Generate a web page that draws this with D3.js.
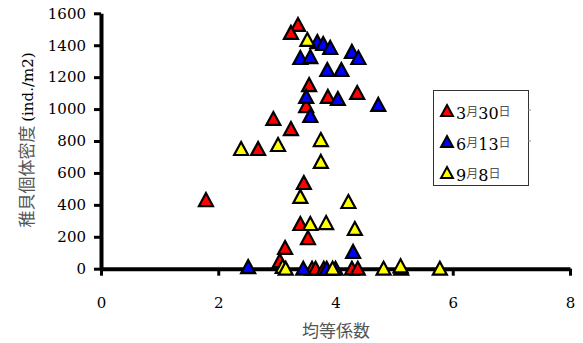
<!DOCTYPE html>
<html>
<head>
<meta charset="utf-8">
<script src="https://cdn.jsdelivr.net/npm/d3@7"></script>
<style>
  body { margin: 0; background: #fff; }
  svg { display: block; }
</style>
</head>
<body>
<svg id="chart"></svg>
<script>
// series names (legend)
const seriesNames = [["3", "月", "30", "日"], ["6", "月", "13", "日"], ["9", "月", "8", "日"]];
const seriesColors = ["#ff0000", "#0000ff", "#ffff00"];

// [均等係数, 稚貝個体密度]
const march30 = [
  [1.79, 430], [3.36, 1527], [3.24, 1477], [3.55, 1150], [3.50, 1019],
  [3.87, 1076], [4.37, 1101], [2.94, 938], [3.24, 875], [2.68, 750],
  [3.46, 537], [3.40, 280], [3.53, 192], [3.14, 130], [3.05, 48],
  [3.60, 0], [3.66, 0], [3.80, 0], [4.28, 0], [4.38, 0]
];
const june13 = [
  [2.51, 10], [3.69, 1420], [3.79, 1408], [3.91, 1383], [4.28, 1358],
  [4.39, 1320], [3.40, 1320], [3.57, 1326], [3.86, 1245], [4.10, 1245],
  [3.50, 1076], [3.57, 957], [4.04, 1063], [4.73, 1026], [4.30, 105],
  [3.45, 0], [3.85, 0], [4.00, 0], [5.12, 0]
];
const sept8 = [
  [3.52, 1433], [3.02, 775], [2.39, 750], [3.75, 806], [3.75, 669],
  [3.40, 450], [4.22, 418], [3.57, 280], [3.84, 286], [4.33, 249],
  [3.10, 12], [3.15, 0], [3.95, 0], [4.82, 0], [5.11, 15], [5.78, 0]
];

const xTicks = [0, 2, 4, 6, 8];
const yTicks = [0, 200, 400, 600, 800, 1000, 1200, 1400, 1600];
const xTitle = "均等係数";
const yTitleCjk = "稚貝個体密度";
const yTitleUnit = "(ind./m2)";

const W = 583, H = 343;
const svg = d3.select("#chart").attr("width", W).attr("height", H);

const x = d3.scaleLinear().domain([0, 8]).range([101, 570]);
const y = d3.scaleLinear().domain([0, 1600]).range([268.7, 13.3]);

const numFont = "DejaVu Serif";
const cjkFont = "Noto Sans CJK JP";

// y axis
const yAxis = svg.append("g")
  .attr("transform", `translate(${x(0)},0)`)
  .call(d3.axisLeft(y).tickValues(yTicks).tickFormat(d3.format("d"))
    .tickSize(7).tickPadding(8).tickSizeOuter(0));
yAxis.attr("font-family", numFont).attr("font-size", 15);
yAxis.select(".domain").attr("stroke", "#000").attr("stroke-width", 4);
yAxis.selectAll(".tick line").attr("stroke", "#000").attr("stroke-width", 3);
yAxis.selectAll(".tick text")
  .style("font-family", numFont).style("font-size", "15px").attr("fill", "#000");

// x axis
const xAxis = svg.append("g")
  .attr("transform", `translate(0,${y(0)})`)
  .call(d3.axisBottom(x).tickValues(xTicks).tickFormat(d3.format("d"))
    .tickSize(7).tickPadding(22).tickSizeOuter(0));
xAxis.attr("font-family", numFont).attr("font-size", 15);
xAxis.select(".domain").attr("stroke", "#000").attr("stroke-width", 4);
xAxis.selectAll(".tick line").attr("stroke", "#000").attr("stroke-width", 3);
xAxis.selectAll(".tick text")
  .style("font-family", numFont).style("font-size", "15px").attr("fill", "#000");

// axis titles
svg.append("text")
  .attr("x", 336).attr("y", 337)
  .attr("text-anchor", "middle")
  .style("font-family", cjkFont).style("font-size", "17px").attr("fill", "#555")
  .text(xTitle);

const yt = svg.append("text")
  .attr("transform", "translate(33,140) rotate(-90)")
  .attr("text-anchor", "middle")
  .attr("fill", "#555");
yt.append("tspan").style("font-family", cjkFont).style("font-size", "17px").text(yTitleCjk + " ");
yt.append("tspan").style("font-family", numFont).style("font-size", "15px").attr("fill", "#000").text(yTitleUnit);

// triangle marker
const tri = s => `M0,${-7 * s}L${7 * s},${6 * s}L${-7 * s},${6 * s}Z`;

// points: red first, then blue, then yellow on top
[march30, june13, sept8].forEach((data, i) => {
  svg.append("g").selectAll("path")
    .data(data)
    .enter()
    .append("path")
    .attr("d", tri(1))
    .attr("transform", d => `translate(${x(d[0])},${y(d[1])})`)
    .attr("fill", seriesColors[i])
    .attr("stroke", "#000")
    .attr("stroke-width", 2.2)
    .attr("stroke-linejoin", "miter");
});

// legend
const lg = svg.append("g");
lg.append("rect")
  .attr("x", 433.5).attr("y", 90.5).attr("width", 95).attr("height", 95)
  .attr("fill", "#fff").attr("stroke", "#333").attr("stroke-width", 1);
[110, 141].forEach(yy => {
  lg.append("line").attr("x1", 528).attr("x2", 531).attr("y1", yy).attr("y2", yy)
    .attr("stroke", "#888").attr("stroke-width", 1);
});
seriesNames.forEach((parts, i) => {
  const cy = 111 + i * 31;
  lg.append("path")
    .attr("d", tri(0.85))
    .attr("transform", `translate(447,${cy})`)
    .attr("fill", seriesColors[i]).attr("stroke", "#000").attr("stroke-width", 2);
  const t = lg.append("text").attr("x", 456).attr("y", cy + 8).attr("fill", "#000");
  t.append("tspan").style("font-family", numFont).style("font-size", "16px").text(parts[0]);
  t.append("tspan").style("font-family", cjkFont).style("font-size", "12px").attr("dy", -3).attr("fill", "#555").text(parts[1]);
  t.append("tspan").style("font-family", numFont).style("font-size", "16px").attr("dy", 3).text(parts[2]);
  t.append("tspan").style("font-family", cjkFont).style("font-size", "12px").attr("dy", -3).attr("fill", "#555").text(parts[3]);
});
</script>
</body>
</html>
